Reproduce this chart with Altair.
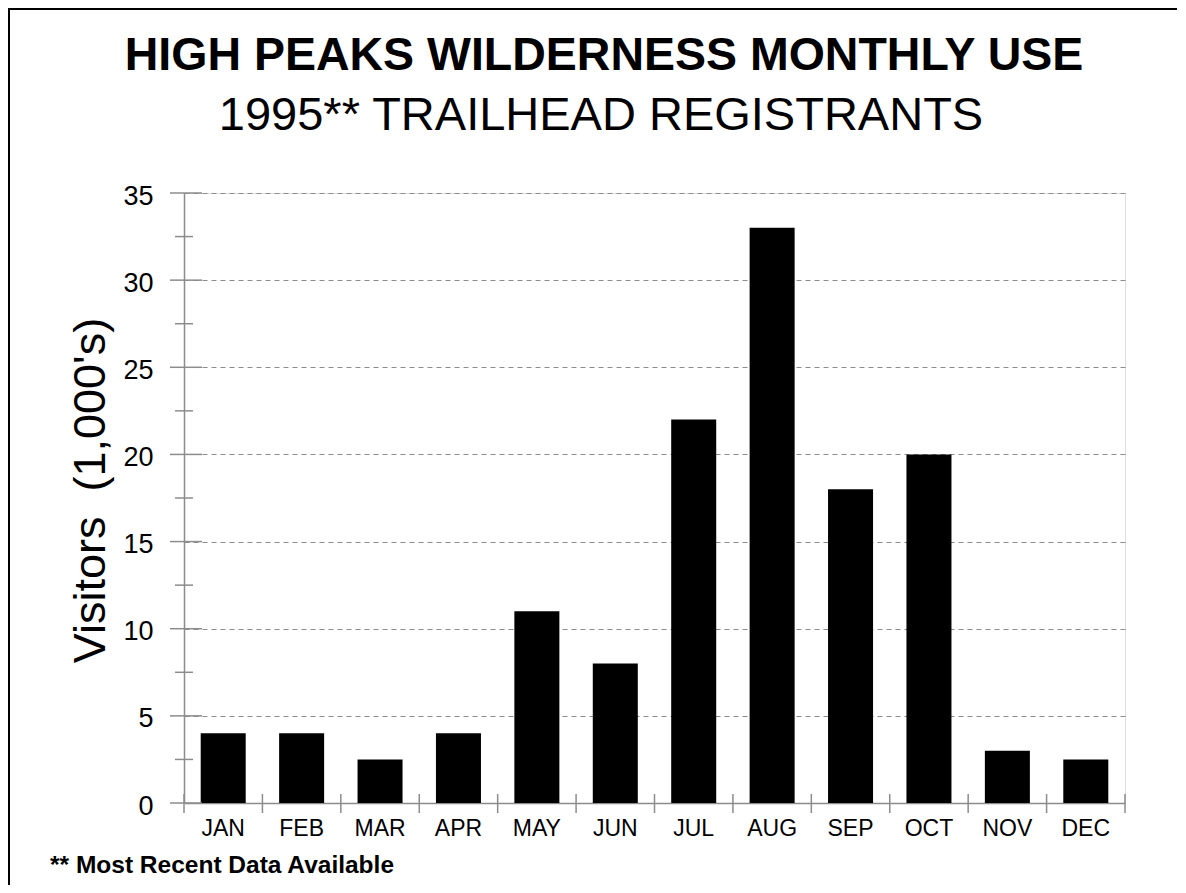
import altair as alt
import pandas as pd

months = ["JAN", "FEB", "MAR", "APR", "MAY", "JUN", "JUL", "AUG", "SEP", "OCT", "NOV", "DEC"]
visitors = [4, 4, 2.5, 4, 11, 8, 22, 33, 18, 20, 3, 2.5]
major_ticks = [0, 5, 10, 15, 20, 25, 30, 35]
minor_ticks = [2.5, 7.5, 12.5, 17.5, 22.5, 27.5, 32.5]
title_lines = ["HIGH PEAKS WILDERNESS MONTHLY USE", "1995** TRAILHEAD REGISTRANTS"]
y_title = "Visitors\u00a0\u00a0(1,000's)"
footnote = "** Most Recent Data Available"

FONT = "Liberation Sans"
GRAY = "#8c8c8c"
W, H = 941, 610

df = pd.DataFrame({"month": months, "visitors": visitors})
one = pd.DataFrame({"k": [0]})

x_scale = alt.Scale(paddingInner=0, paddingOuter=0)
y_scale = alt.Scale(domain=[0, 35], nice=False)

x_axis = alt.Axis(labelFont=FONT, labelFontSize=23, labelColor="black",
                  labelAngle=0, ticks=False, tickSize=0, labelPadding=32,
                  labelBaseline="alphabetic", domainColor=GRAY, domainWidth=1.5,
                  grid=False)
y_axis = alt.Axis(values=major_ticks, labelFont=FONT, labelFontSize=27,
                  labelColor="black", ticks=False, tickSize=0, labelPadding=31,
                  labelOffset=3, domainColor=GRAY, domainWidth=1.5,
                  grid=True, gridColor=GRAY, gridDash=[5, 4], gridWidth=1,
                  titleFont=FONT, titleFontSize=45, titleFontWeight="normal",
                  titleColor="black", titleX=-80, titleY=H / 2 - 8,
                  titleBaseline="alphabetic")

left_line = alt.Chart(one).mark_rule(color="black", strokeWidth=2).encode(
    x=alt.value(-175), y=alt.value(-184), y2=alt.value(H + 200)
)
top_line = alt.Chart(one).mark_rule(color="black", strokeWidth=2).encode(
    y=alt.value(-184), x=alt.value(-176), x2=alt.value(W + 52)
)

bars = alt.Chart(df).mark_bar(color="black", width={"band": 0.574}).encode(
    x=alt.X("month:N", sort=months, scale=x_scale, title=None, axis=x_axis),
    y=alt.Y("visitors:Q", scale=y_scale, title=y_title, axis=y_axis),
)

x_ticks = alt.Chart(df).mark_rule(color=GRAY, strokeWidth=1.5).encode(
    x=alt.X("month:N", sort=months, scale=x_scale, bandPosition=0, title=None),
    y=alt.value(H - 9), y2=alt.value(H + 10),
)
x_end = alt.Chart(df).transform_filter(alt.datum.month == months[-1]).mark_rule(
    color=GRAY, strokeWidth=1.5).encode(
    x=alt.X("month:N", sort=months, scale=x_scale, bandPosition=1, title=None),
    y=alt.value(H - 9), y2=alt.value(H + 10),
)

y_major = alt.Chart(pd.DataFrame({"visitors": major_ticks})).mark_rule(color=GRAY, strokeWidth=1.5).encode(
    y=alt.Y("visitors:Q", scale=y_scale, title=y_title), x=alt.value(-14), x2=alt.value(18)
)
y_minor = alt.Chart(pd.DataFrame({"visitors": minor_ticks})).mark_rule(color=GRAY, strokeWidth=1.5).encode(
    y=alt.Y("visitors:Q", scale=y_scale, title=y_title), x=alt.value(-9), x2=alt.value(9)
)

title1 = alt.Chart(pd.DataFrame({"t": [title_lines[0]]})).mark_text(
    font=FONT, fontSize=46.5, fontWeight="bold", color="black", align="center", baseline="alphabetic"
).encode(text="t:N", x=alt.value(420), y=alt.value(-123))
title2 = alt.Chart(pd.DataFrame({"t": [title_lines[1]]})).mark_text(
    font=FONT, fontSize=47, fontWeight="normal", color="black", align="center", baseline="alphabetic"
).encode(text="t:N", x=alt.value(417), y=alt.value(-63))
note = alt.Chart(pd.DataFrame({"t": [footnote]})).mark_text(
    font=FONT, fontSize=24.5, fontWeight="bold", color="black", align="left", baseline="alphabetic"
).encode(text="t:N", x=alt.value(-134), y=alt.value(H + 70))

chart = alt.layer(left_line, top_line, bars, x_ticks, x_end, y_major, y_minor, title1, title2, note).properties(
    width=W, height=H,
    padding={"left": 176, "top": 185, "right": 53, "bottom": 82},
    autosize=alt.AutoSizeParams(type="none"),
).configure_view(stroke=GRAY, strokeWidth=1.5).configure(font=FONT, background="white")

chart.save("out.html", embed_options={"renderer": "svg", "actions": False})
